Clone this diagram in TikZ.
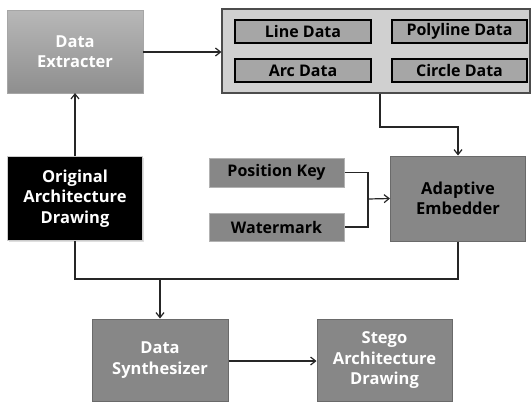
\documentclass[tikz,border=0pt]{standalone}
\usepackage{fontspec}
\setmainfont{Open Sans}
\usetikzlibrary{arrows.meta,shadows}
\definecolor{cont}{HTML}{D0D0D0}
\definecolor{inner}{HTML}{A6A6A6}
\definecolor{midgray}{HTML}{878787}
\definecolor{edgegray}{HTML}{6A6A6A}
\definecolor{gtop}{HTML}{B8B8B8}
\definecolor{gbot}{HTML}{8E8E8E}
\tikzset{
  x=1pt,y=-1pt,
  conn/.style={line width=1.2pt,draw=black!85},
  arr/.style={conn,-{Straight Barb[length=5pt,width=8pt]}},
  boxtxt/.style={font=\bfseries\fontsize{16.5}{20.5}\selectfont,align=center},
  bigbox/.style={draw=edgegray,line width=1pt,fill=midgray,boxtxt},
  innerbox/.style={draw=black,line width=1.3pt,fill=inner,font=\bfseries\fontsize{16}{18}\selectfont},
  smallbox/.style={draw=gray!60,line width=1pt,fill=midgray,font=\bfseries\fontsize{16}{18}\selectfont},
}
\begin{document}
\begin{tikzpicture}
\useasboundingbox[fill=white] (0,0) rectangle (532,402);
% Data Extracter
\path[top color=gtop,bottom color=gbot,draw=gray!70,drop shadow={opacity=0.3,shadow xshift=1pt,shadow yshift=-1pt}]
  (7,10) rectangle (143,93);
\node[boxtxt,text=white] (de) at (75,51.5) {Data\\Extracter};
\coordinate (deB) at (75,93); \coordinate (deR) at (143,52);
% container
\node[draw=black!70,line width=1.2pt,fill=cont,minimum width=308,minimum height=84,inner sep=0] (cont) at (376,51) {};
% inner boxes
\node[innerbox,minimum width=136,minimum height=23,inner sep=0] (line) at (303,31.5) {Line Data};
\node[innerbox,minimum width=135,minimum height=23,inner sep=0] (poly) at (459.5,31.5) {Polyline Data};
\node[innerbox,minimum width=136,minimum height=23,inner sep=0] (arc) at (303,70.5) {Arc Data};
\node[innerbox,minimum width=135,minimum height=23,inner sep=0] (circ) at (459.5,70.5) {Circle Data};
% Original
\node[fill=black,draw=gray!40,line width=1pt,minimum width=135,minimum height=84,inner sep=0,boxtxt,text=white,drop shadow={opacity=0.25,shadow xshift=1pt,shadow yshift=-1pt}] (orig) at (75,198.5) {Original\\Architecture\\Drawing};
% Position key, watermark
\node[smallbox,minimum width=135,minimum height=29,inner sep=0] (pk) at (276.5,172.5) {Position Key};
\node[smallbox,minimum width=135,minimum height=28,inner sep=0] (wm) at (276.5,227) {Watermark};
% Adaptive
\node[bigbox,minimum width=135,minimum height=85,inner sep=0] (ae) at (458,198.5) {Adaptive\\Embedder};
% bottom boxes
\node[bigbox,text=white,minimum width=136,minimum height=82,inner sep=0] (ds) at (160,360) {Data\\Synthesizer};
\node[bigbox,text=white,minimum width=135,minimum height=82,inner sep=0] (st) at (384.5,360) {Stego\\Architecture\\Drawing};
% connectors
\draw[arr] (deR) -- (cont.west |- deR);
\draw[arr] (orig.north) -- (deB);
\coordinate (j1) at (380,127);
\coordinate (j2) at (458,127);
\draw[arr] (cont.south -| j1) -- (j1) -- (j2) -- (ae.north);
\coordinate (m) at (368,199);
\draw[conn] (pk.east) -- (pk.east -| m) -- (wm.east -| m) -- (wm.east);
\draw[arr] (m) -- (ae.west);
\coordinate (b1) at (75,279);
\coordinate (b2) at (458,279);
\coordinate (b3) at (160,279);
\draw[conn] (orig.south) -- (b1) -- (b2) -- (ae.south);
\draw[arr] (b3) -- (ds.north);
\draw[arr] (ds.east |- 0,361) -- (st.west |- 0,361);
\end{tikzpicture}
\end{document}
